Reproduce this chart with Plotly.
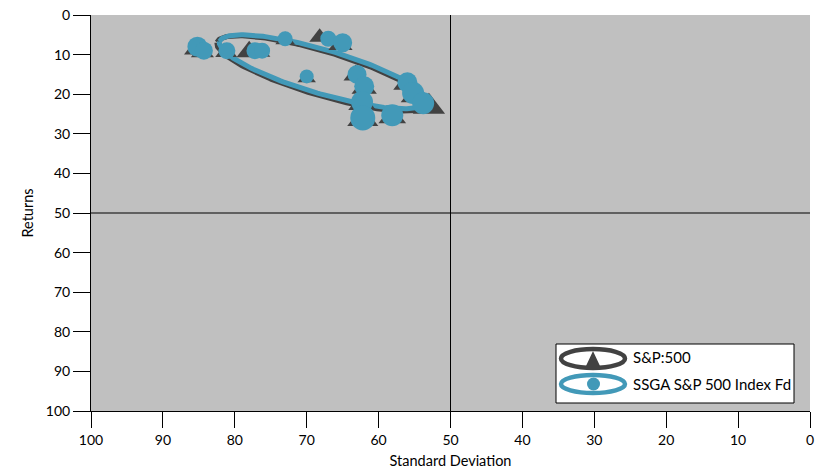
import numpy as np
import plotly.graph_objects as go

# ---------------- data ----------------
series_names = ["S&P:500", "SSGA S&P 500 Index Fd"]

sp_std = [85.3, 84.5, 81.2, 78.0, 76.5, 73.0, 68.2, 65.3, 70.0, 63.2, 62.0, 62.3, 62.2, 58.1, 56.2, 55.0, 53.0]
sp_ret = [8.6, 9.4, 9.4, 9.3, 9.4, 6.3, 5.6, 7.5, 16.0, 15.2, 18.5, 22.5, 26.3, 25.8, 17.5, 20.5, 23.2]
sp_size = [22, 20, 19, 22, 18, 17, 18, 21, 16, 21, 22, 24, 27, 24, 22, 24, 28]

fd_std = [85.2, 84.3, 81.1, 77.2, 76.2, 73.0, 67.0, 65.0, 70.0, 63.0, 62.0, 62.3, 62.2, 58.1, 56.0, 55.2, 53.8]
fd_ret = [8.0, 9.0, 9.0, 9.0, 9.0, 6.0, 6.0, 7.0, 15.5, 15.0, 18.0, 22.0, 26.0, 25.3, 17.0, 19.7, 22.3]
fd_size = [20, 18, 17, 17, 16, 15, 16, 19, 14, 19, 20, 22, 25, 22, 20, 22, 22]

x_ticks = [100, 90, 80, 70, 60, 50, 40, 30, 20, 10, 0]
y_ticks = [0, 10, 20, 30, 40, 50, 60, 70, 80, 90, 100]

# ---------------- style ----------------
DARK = "#424242"
BLUE = "#4299b8"
FONT = "Lato"

W, H = 821, 469
ML, MR, MT, MB = 91, 11, 15, 58
PW, PH = W - ML - MR, H - MT - MB
SX, SY = PW / 100.0, PH / 100.0  # pixels per data unit


def ellipse(xs, ys, k1=1.46, k2=1.25, n=240):
    # principal-axis ellipse of the points, computed in screen-proportional space
    u = (100 - np.asarray(xs)) * SX
    v = np.asarray(ys) * SY
    cu, cv = u.mean(), v.mean()
    cov = np.cov(np.vstack([u - cu, v - cv]), bias=True)
    vals, vecs = np.linalg.eigh(cov)
    a, b = k1 * np.sqrt(vals[1]), k2 * np.sqrt(vals[0])
    e1, e2 = vecs[:, 1], vecs[:, 0]
    t = np.linspace(0, 2 * np.pi, n)
    pu = cu + a * np.cos(t) * e1[0] + b * np.sin(t) * e2[0]
    pv = cv + a * np.cos(t) * e1[1] + b * np.sin(t) * e2[1]
    return 100 - pu / SX, pv / SY


fig = go.Figure()

ex, ey = ellipse(sp_std, sp_ret)
fig.add_trace(go.Scatter(x=ex, y=ey, mode="lines", line=dict(color=DARK, width=5),
                         hoverinfo="skip", showlegend=False))
ex, ey = ellipse(fd_std, fd_ret)
fig.add_trace(go.Scatter(x=ex, y=ey, mode="lines", line=dict(color=BLUE, width=5),
                         hoverinfo="skip", showlegend=False))

fig.add_trace(go.Scatter(x=sp_std, y=sp_ret, mode="markers", name=series_names[0],
                         marker=dict(symbol="triangle-up", size=sp_size, color=DARK, opacity=1,
                                     line=dict(width=0)), showlegend=False))
fig.add_trace(go.Scatter(x=fd_std, y=fd_ret, mode="markers", name=series_names[1],
                         marker=dict(symbol="circle", size=fd_size, color=BLUE, opacity=1,
                                     line=dict(width=0)), showlegend=False))


# ---------------- custom legend (pixel helpers) ----------------
def px(x):
    return (x - ML) / PW


def py(y):
    return (MT + PH - y) / PH


shapes = [
    dict(type="line", xref="x", yref="y", x0=50, x1=50, y0=0, y1=100,
         line=dict(color="black", width=1), layer="below"),
    dict(type="line", xref="x", yref="y", x0=0, x1=100, y0=50, y1=50,
         line=dict(color="black", width=1), layer="below"),
    dict(type="rect", xref="paper", yref="paper", x0=px(556), x1=px(794), y0=py(403), y1=py(344),
         fillcolor="white", line=dict(color="black", width=1)),
    # item 1
    dict(type="circle", xref="paper", yref="paper", x0=px(561), x1=px(625), y0=py(368), y1=py(349),
         line=dict(color=DARK, width=4.5)),
    dict(type="path", xref="paper", yref="paper",
         path=f"M {px(586)} {py(366)} L {px(600)} {py(366)} L {px(593)} {py(351)} Z",
         fillcolor=DARK, line=dict(width=0)),
    # item 2
    dict(type="circle", xref="paper", yref="paper", x0=px(561), x1=px(625), y0=py(393), y1=py(375),
         line=dict(color=BLUE, width=4.5)),
    dict(type="circle", xref="paper", yref="paper", x0=px(587), x1=px(600), y0=py(390.5), y1=py(377.5),
         fillcolor=BLUE, line=dict(width=0)),
]

annotations = [
    dict(xref="paper", yref="paper", x=px(631), y=py(357), text=series_names[0], showarrow=False,
         xanchor="left", yanchor="middle", font=dict(family=FONT, size=15, color="black")),
    dict(xref="paper", yref="paper", x=px(631), y=py(384), text=series_names[1], showarrow=False,
         xanchor="left", yanchor="middle", font=dict(family=FONT, size=15, color="black")),
]

fig.update_layout(
    width=W, height=H,
    margin=dict(l=ML, r=MR, t=MT, b=MB, pad=0, autoexpand=False),
    paper_bgcolor="white",
    plot_bgcolor="#c0c0c0",
    font=dict(family=FONT, size=14, color="black"),
    showlegend=False,
    shapes=shapes,
    annotations=annotations,
    xaxis=dict(range=[100, 0], tickvals=x_ticks, ticktext=[str(v) for v in x_ticks],
               automargin=False,
               showgrid=False, zeroline=False, showline=True, linecolor="black", linewidth=1,
               ticks="outside", ticklen=16, tickcolor="black", tickwidth=1,
               tickfont=dict(family=FONT, size=14),
               title=dict(text="Standard Deviation", font=dict(family=FONT, size=14.5), standoff=10)),
    yaxis=dict(range=[100, 0], tickvals=y_ticks, ticktext=[str(v) for v in y_ticks],
               automargin=False,
               showgrid=False, zeroline=False, showline=True, linecolor="black", linewidth=1,
               ticks="outside", ticklen=17, tickcolor="black", tickwidth=1,
               tickfont=dict(family=FONT, size=14),
               title=dict(text="Returns", font=dict(family=FONT, size=14.5), standoff=8)),
)

fig.write_html("out.html", config={"displayModeBar": False},
               post_script="document.body.style.margin='0px';document.body.style.overflow='hidden';")
